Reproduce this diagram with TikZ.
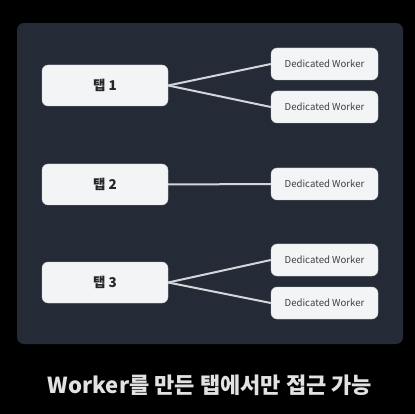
\documentclass[tikz,border=0pt]{standalone}
\usepackage{fontspec}
\setmainfont{Noto Sans CJK KR}
\definecolor{panelbg}{HTML}{252B36}
\definecolor{boxfill}{HTML}{F3F4F6}
\definecolor{boxline}{HTML}{C9CDD3}
\definecolor{wire}{HTML}{D3D7DC}
\definecolor{capgray}{HTML}{E2E2E2}
\tikzset{
  tab/.style={draw=boxline,fill=boxfill,rounded corners=6pt,minimum width=126pt,minimum height=41pt,font=\fontsize{13.5}{15}\selectfont\bfseries,text=black!85},
  worker/.style={draw=boxline,fill=boxfill,rounded corners=6pt,minimum width=107pt,minimum height=32pt,font=\fontsize{9.6}{11}\selectfont,text=black!75},
  link/.style={wire,line width=2pt}
}
\begin{document}
\begin{tikzpicture}[x=1pt,y=-1pt]
\useasboundingbox[fill=black] (0,0) rectangle (415,414);
\fill[panelbg,rounded corners=7pt] (17,23) rectangle (403,344);
\node[tab] (t1) at (105,85.5) {탭 1};
\node[tab] (t2) at (105,184.5) {탭 2};
\node[tab] (t3) at (105,282.5) {탭 3};
\node[worker] (w1) at (324.5,64) {Dedicated Worker};
\node[worker] (w2) at (324.5,107) {Dedicated Worker};
\node[worker] (w3) at (324.5,184) {Dedicated Worker};
\node[worker] (w4) at (324.5,260) {Dedicated Worker};
\node[worker] (w5) at (324.5,303) {Dedicated Worker};
\draw[link] (t1.east) -- (w1.west);
\draw[link] (t1.east) -- (w2.west);
\draw[link] (t2.east) -- (w3.west);
\draw[link] (t3.east) -- (w4.west);
\draw[link] (t3.east) -- (w5.west);
\node[text=capgray,font=\fontsize{22}{26}\selectfont\bfseries] (cap) at (210,385) {Worker를 만든 탭에서만 접근 가능};
\end{tikzpicture}
\end{document}
